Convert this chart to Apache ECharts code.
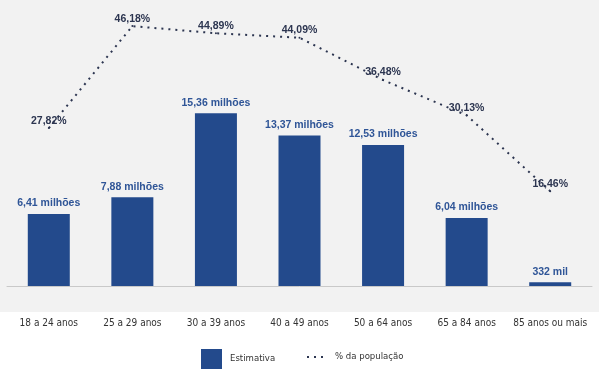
<!DOCTYPE html>
<html>
<head>
<meta charset="utf-8">
<script src="https://cdn.jsdelivr.net/npm/echarts@6/dist/echarts.min.js"></script>
<style>
  html, body { margin: 0; padding: 0; background: #ffffff; }
  #chart { width: 599px; height: 378px; }
</style>
</head>
<body>
<div id="chart"></div>
<script>
// faixas etárias
const categories = ['18 a 24 anos', '25 a 29 anos', '30 a 39 anos', '40 a 49 anos', '50 a 64 anos', '65 a 84 anos', '85 anos ou mais'];
// estimativa em milhões
const estimativa = [6.41, 7.88, 15.36, 13.37, 12.53, 6.04, 0.332];
const estimativaLabels = ['6,41 milhões', '7,88 milhões', '15,36 milhões', '13,37 milhões', '12,53 milhões', '6,04 milhões', '332 mil'];
// % da população
const percentual = [27.82, 46.18, 44.89, 44.09, 36.48, 30.13, 16.46];

const narrowFont = 'DejaVu Sans Condensed, Liberation Sans Narrow, sans-serif';
const chart = echarts.init(document.getElementById('chart'));

const option = {
  backgroundColor: '#ffffff',
  animation: false,
  graphic: [
    {
      type: 'rect',
      z: -10,
      silent: true,
      shape: { x: 0, y: 0, width: 599, height: 312 },
      style: { fill: '#f2f2f2' }
    }
  ],
  grid: { left: 7, right: 7, top: 16, bottom: 92 },
  legend: [
    {
      data: [{ name: 'Estimativa', icon: 'rect' }],
      left: 196,
      top: 344,
      itemWidth: 21,
      itemHeight: 20,
      textStyle: { color: '#333', fontSize: 9.5, fontFamily: narrowFont, padding: [0, 0, 0, 3] }
    },
    {
      data: [{ name: '% da população', icon: 'path://M0,0h2v2h-2z M7,0h2v2h-2z M14,0h2v2h-2z' }],
      left: 302,
      top: 347,
      itemWidth: 16,
      itemHeight: 2,
      itemStyle: { color: '#2c3550' },
      textStyle: { color: '#333', fontSize: 9.5, fontFamily: narrowFont, padding: [0, 0, 0, 7] }
    }
  ],
  xAxis: {
    type: 'category',
    data: categories,
    axisLine: { lineStyle: { color: '#c9c9c9', width: 1 } },
    axisTick: { show: false },
    axisLabel: {
      interval: 0,
      margin: 32,
      color: '#333',
      fontSize: 10,
      fontFamily: narrowFont
    }
  },
  yAxis: [
    { type: 'value', min: 0, max: 24, show: false, splitLine: { show: false } },
    { type: 'value', min: -0.6, max: 48, show: false, splitLine: { show: false } }
  ],
  series: [
    {
      name: 'Estimativa',
      type: 'bar',
      barWidth: 42,
      yAxisIndex: 0,
      itemStyle: { color: '#234a8c' },
      label: {
        show: true,
        position: 'top',
        distance: 5,
        color: '#2f5597',
        fontWeight: 'bold',
        fontSize: 10.5,
        fontFamily: 'Liberation Sans, Arial, sans-serif',
        formatter: p => estimativaLabels[p.dataIndex]
      },
      data: estimativa
    },
    {
      name: '% da população',
      type: 'line',
      yAxisIndex: 1,
      symbol: 'circle',
      symbolSize: 2,
      showSymbol: true,
      lineStyle: { color: '#2c3550', width: 2, type: [2, 5] },
      itemStyle: { color: '#2c3550' },
      label: {
        show: true,
        position: 'top',
        distance: 1,
        color: '#2c3550',
        fontWeight: 'bold',
        fontSize: 10.5,
        fontFamily: 'Liberation Sans, Arial, sans-serif',
        formatter: p => p.value.toFixed(2).replace('.', ',') + '%'
      },
      data: percentual
    }
  ]
};

chart.setOption(option);
</script>
</body>
</html>
